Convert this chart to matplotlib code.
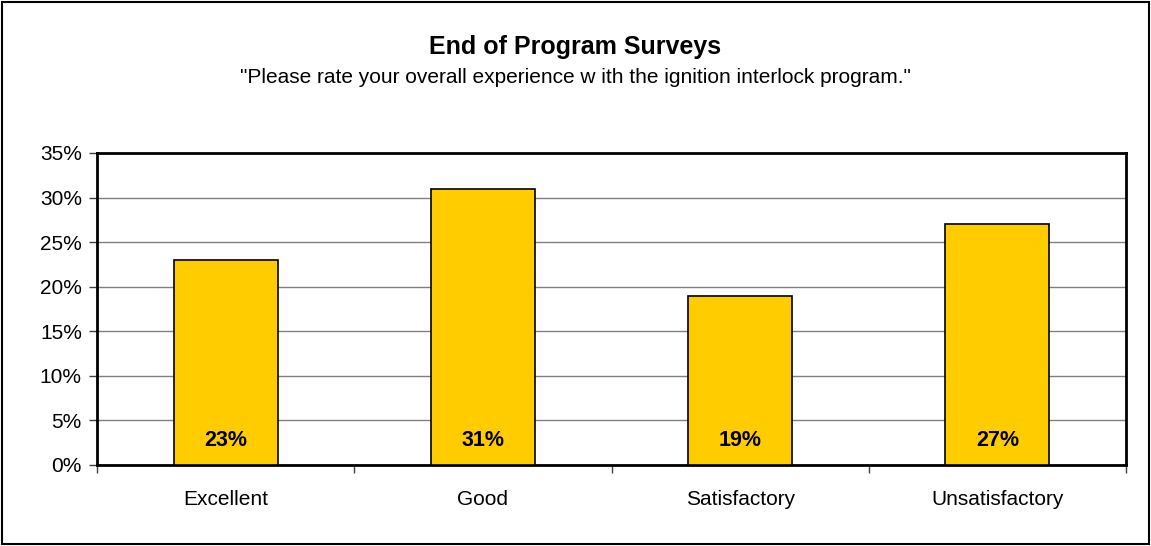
import matplotlib.pyplot as plt
from matplotlib.patches import Rectangle
from matplotlib.ticker import FuncFormatter, MultipleLocator

plt.rcParams["font.family"] = ["Liberation Sans", "DejaVu Sans"]

categories = ["Excellent", "Good", "Satisfactory", "Unsatisfactory"]
shares = [23, 31, 19, 27]
bar_labels = ["23%", "31%", "19%", "27%"]

fig = plt.figure(figsize=(11.51, 5.46), dpi=100)
ax = fig.add_axes([0.0843, 0.1484, 0.894, 0.5714])

x = list(range(len(categories)))
ax.bar(x, shares, width=0.405, color="#FFCC00", edgecolor="black", linewidth=1.2, zorder=3)
for xi, v, lab in zip(x, shares, bar_labels):
    ax.text(xi, 2.8, lab, ha="center", va="center", fontsize=15.5, fontweight="bold", zorder=4)

ax.set_xlim(-0.5, len(categories) - 0.5)
ax.set_ylim(0, 35)
ax.yaxis.set_major_locator(MultipleLocator(5))
ax.yaxis.set_major_formatter(FuncFormatter(lambda v, p: f"{v:.0f}%"))
ax.grid(axis="y", color="#808080", linewidth=1, zorder=0)
ax.set_xticks(x)
ax.set_xticklabels(categories, fontsize=15)
ax.set_xticks([i - 0.5 for i in range(len(categories) + 1)], minor=True)
ax.tick_params(axis="x", which="major", length=0, pad=18)
ax.tick_params(axis="x", which="minor", length=6, width=1, color="#404040")
ax.tick_params(axis="y", labelsize=15, length=6, width=1, color="#404040", pad=5)
for s in ax.spines.values():
    s.set_linewidth(2)
    s.set_color("black")

fig.text(0.5, 1 - 47 / 546, "End of Program Surveys", ha="center", va="center",
         fontsize=18, fontweight="bold")
fig.text(0.5, 1 - 78 / 546,
         '"Please rate your overall experience w ith the ignition interlock program."',
         ha="center", va="center", fontsize=15)

fig.patches.append(Rectangle((0.002, 0.003), 0.996, 0.994, transform=fig.transFigure,
                             fill=False, edgecolor="black", linewidth=1.5))

fig.savefig("out.png", dpi=100)
